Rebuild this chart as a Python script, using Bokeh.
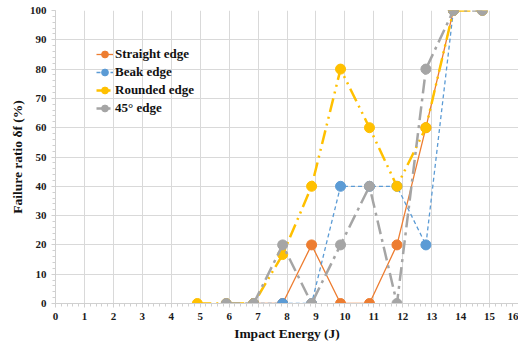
from bokeh.plotting import figure
from bokeh.models import Legend, LegendItem, FixedTicker
from bokeh.embed import file_html
from bokeh.resources import INLINE

# Data
straight_x = [6.85, 7.85, 8.85, 9.85, 10.85, 11.8, 12.8, 13.75]
straight_y = [0, 0, 20, 0, 0, 20, 60, 100]
beak_x = [6.85, 7.85, 8.85, 9.85, 10.85, 11.8, 12.8, 13.75]
beak_y = [0, 0, 0, 40, 40, 40, 20, 100]
rounded_x = [4.9, 5.9, 6.85, 7.85, 8.85, 9.85, 10.85, 11.8, 12.8, 13.75, 14.75]
rounded_y = [0, 0, 0, 16.7, 40, 80, 60, 40, 60, 100, 100]
edge45_x = [5.9, 6.85, 7.85, 8.85, 9.85, 10.85, 11.8, 12.8, 13.75, 14.75]
edge45_y = [0, 0, 20, 0, 20, 40, 0, 80, 100, 100]

x_ticks = list(range(0, 17))
y_ticks = list(range(0, 101, 10))

FONT = "Liberation Serif"

p = figure(width=518, height=336, x_range=(0, 16), y_range=(0, 100),
           output_backend="svg", toolbar_location=None,
           min_border_left=55, min_border_right=0, min_border_top=10, min_border_bottom=30)
p.frame_width = 463
p.frame_height = 293
p.outline_line_color = None
p.background_fill_color = "white"

for ax in (p.xaxis[0], p.yaxis[0]):
    ax.major_label_text_font = FONT
    ax.major_label_text_font_style = "bold"
    ax.major_label_text_font_size = "11px"
    ax.major_label_text_color = "#1a1a1a"
    ax.axis_label_text_font = FONT
    ax.axis_label_text_font_style = "bold"
    ax.axis_label_text_font_size = "13.5px"
    ax.axis_label_text_color = "#111111"
    ax.axis_line_color = "#d0d0d0"
    ax.major_tick_line_color = "#d0d0d0"
    ax.minor_tick_line_color = "#d0d0d0"
    ax.major_tick_in = 0
    ax.major_tick_out = 4
    ax.minor_tick_in = 0
    ax.minor_tick_out = 3

p.xaxis.ticker = FixedTicker(ticks=x_ticks, minor_ticks=[i * 0.2 for i in range(0, 81)])
p.yaxis.ticker = FixedTicker(ticks=y_ticks, minor_ticks=list(range(0, 101, 2)))
p.xaxis.axis_label = "Impact Energy (J)"
p.yaxis.axis_label = "Failure ratio δf (%)"
p.xaxis.axis_label_standoff = 3
p.yaxis.axis_label_standoff = 2

p.xgrid.grid_line_color = "#d9d9d9"
p.ygrid.grid_line_color = "#d9d9d9"
p.xgrid.ticker = FixedTicker(ticks=x_ticks)
p.ygrid.ticker = FixedTicker(ticks=y_ticks)

series = [
    ("Straight edge", straight_x, straight_y, "#ED7D31", 1.3, "solid"),
    ("Beak edge", beak_x, beak_y, "#5B9BD5", 1.3, "4 3"),
    ("Rounded edge", rounded_x, rounded_y, "#FFC000", 2.5, "14 5 2 5 2 5"),
    ("45° edge", edge45_x, edge45_y, "#A5A5A5", 2.5, "14 5 3 5"),
]

items = []
for name, xs, ys, col, lw, dash in series:
    r1 = p.line(xs, ys, line_color=col, line_width=lw, line_dash=dash)
    r2 = p.scatter(xs, ys, size=10, fill_color=col, line_color=col, line_width=1)
    items.append(LegendItem(label=name, renderers=[r1, r2]))

legend = Legend(items=items, location=(41, 186))
legend.label_text_font = FONT
legend.label_text_font_style = "bold"
legend.label_text_font_size = "13px"
legend.label_text_color = "#111111"
legend.border_line_color = None
legend.background_fill_alpha = 0
legend.padding = 4
legend.spacing = 0
legend.label_height = 18
legend.glyph_height = 18
legend.glyph_width = 17
legend.label_standoff = 2
p.add_layout(legend)

open("out.html", "w").write(file_html(p, INLINE))
